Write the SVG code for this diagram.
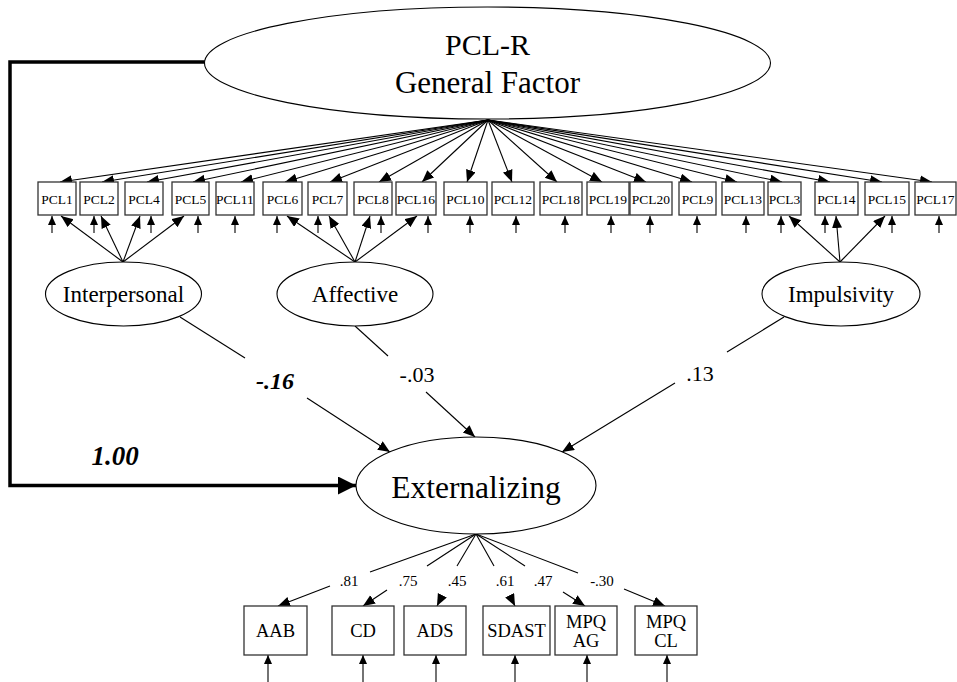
<svg xmlns="http://www.w3.org/2000/svg" width="957" height="682" viewBox="0 0 957 682">
<style>
text{font-family:"Liberation Serif","Times New Roman",serif;fill:#000;text-anchor:middle}
.box{fill:#fff;stroke:#333;stroke-width:1.3}
.ell{fill:#fff;stroke:#000;stroke-width:1.1}
.ln{stroke:#000;stroke-width:1.1;fill:none}
.arr{stroke:#000;stroke-width:1.1;fill:none;marker-end:url(#ah)}
.err{stroke:#000;stroke-width:1.1;fill:none;marker-end:url(#ah2)}
.pcl{font-size:13.5px}
.obs{font-size:18.5px}
.ld{font-size:15px}
.pl{font-size:22px}
.lat{font-size:23px}
</style>
<defs>
<marker id="ah" markerUnits="userSpaceOnUse" markerWidth="13" markerHeight="11" refX="12" refY="5" orient="auto"><path d="M0,0 L12,5 L0,10 z" fill="#000"/></marker>
<marker id="ah2" markerUnits="userSpaceOnUse" markerWidth="10" markerHeight="9" refX="9" refY="4" orient="auto"><path d="M0,0 L9,4 L0,8 z" fill="#000"/></marker>
<marker id="ahb" markerUnits="userSpaceOnUse" markerWidth="20" markerHeight="20" refX="18" refY="9" orient="auto"><path d="M0,0 L18,9 L0,18 z" fill="#000"/></marker>
</defs>

<g id="connectors">
<path d="M205,62 H10 V485.5 H356" stroke="#000" stroke-width="3.5" fill="none" marker-end="url(#ahb)"/>
<line class="arr" x1="488" y1="120" x2="60" y2="182"/>
<line class="arr" x1="488" y1="120" x2="102" y2="182"/>
<line class="arr" x1="488" y1="120" x2="147" y2="182"/>
<line class="arr" x1="488" y1="120" x2="193" y2="182"/>
<line class="arr" x1="488" y1="120" x2="241" y2="182"/>
<line class="arr" x1="488" y1="120" x2="285" y2="182"/>
<line class="arr" x1="488" y1="120" x2="330" y2="182"/>
<line class="arr" x1="488" y1="120" x2="379" y2="182"/>
<line class="arr" x1="488" y1="120" x2="422" y2="182"/>
<line class="arr" x1="488" y1="120" x2="467" y2="182"/>
<line class="arr" x1="488" y1="120" x2="512" y2="182"/>
<line class="arr" x1="488" y1="120" x2="557" y2="182"/>
<line class="arr" x1="488" y1="120" x2="602" y2="182"/>
<line class="arr" x1="488" y1="120" x2="646" y2="182"/>
<line class="arr" x1="488" y1="120" x2="692" y2="182"/>
<line class="arr" x1="488" y1="120" x2="737" y2="182"/>
<line class="arr" x1="488" y1="120" x2="782" y2="182"/>
<line class="arr" x1="488" y1="120" x2="830" y2="182"/>
<line class="arr" x1="488" y1="120" x2="882" y2="182"/>
<line class="arr" x1="488" y1="120" x2="932" y2="182"/>
<line class="err" x1="52" y1="233" x2="52" y2="216"/>
<line class="err" x1="94" y1="233" x2="94" y2="216"/>
<line class="err" x1="151" y1="233" x2="151" y2="216"/>
<line class="err" x1="198" y1="233" x2="198" y2="216"/>
<line class="err" x1="235" y1="233" x2="235" y2="216"/>
<line class="err" x1="277" y1="233" x2="277" y2="216"/>
<line class="err" x1="318" y1="233" x2="318" y2="216"/>
<line class="err" x1="381" y1="233" x2="381" y2="216"/>
<line class="err" x1="428" y1="233" x2="428" y2="216"/>
<line class="err" x1="470" y1="233" x2="470" y2="216"/>
<line class="err" x1="516" y1="233" x2="516" y2="216"/>
<line class="err" x1="565" y1="233" x2="565" y2="216"/>
<line class="err" x1="611" y1="233" x2="611" y2="216"/>
<line class="err" x1="650" y1="233" x2="650" y2="216"/>
<line class="err" x1="697" y1="233" x2="697" y2="216"/>
<line class="err" x1="746" y1="233" x2="746" y2="216"/>
<line class="err" x1="781" y1="233" x2="781" y2="216"/>
<line class="err" x1="825" y1="233" x2="825" y2="216"/>
<line class="err" x1="892" y1="233" x2="892" y2="216"/>
<line class="err" x1="939" y1="233" x2="939" y2="216"/>
<line class="arr" x1="123" y1="262" x2="61" y2="216"/>
<line class="arr" x1="123" y1="262" x2="101" y2="216"/>
<line class="arr" x1="123" y1="262" x2="140" y2="216"/>
<line class="arr" x1="123" y1="262" x2="184" y2="216"/>
<line class="arr" x1="355" y1="262" x2="287" y2="216"/>
<line class="arr" x1="355" y1="262" x2="329" y2="216"/>
<line class="arr" x1="355" y1="262" x2="370" y2="216"/>
<line class="arr" x1="355" y1="262" x2="417" y2="216"/>
<line class="arr" x1="840" y1="262" x2="789" y2="216"/>
<line class="arr" x1="840" y1="262" x2="836" y2="216"/>
<line class="arr" x1="840" y1="262" x2="885" y2="216"/>
<line class="ln" x1="180" y1="317" x2="245" y2="358"/>
<line class="arr" x1="307" y1="398" x2="390" y2="452"/>
<line class="ln" x1="355" y1="326" x2="388" y2="356"/>
<line class="arr" x1="426" y1="392" x2="475" y2="437"/>
<line class="ln" x1="784" y1="317" x2="727" y2="352"/>
<line class="arr" x1="675" y1="383" x2="562" y2="452"/>
<line class="ln" x1="476" y1="534" x2="370" y2="572"/>
<line class="arr" x1="330" y1="586" x2="278" y2="606"/>
<line class="ln" x1="476" y1="534" x2="427" y2="566"/>
<line class="arr" x1="387" y1="590" x2="363" y2="606"/>
<line class="ln" x1="476" y1="534" x2="457" y2="566"/>
<line class="arr" x1="442" y1="596" x2="437" y2="606"/>
<line class="ln" x1="476" y1="534" x2="494" y2="566"/>
<line class="arr" x1="510" y1="596" x2="515" y2="606"/>
<line class="ln" x1="476" y1="534" x2="525" y2="566"/>
<line class="arr" x1="563" y1="592" x2="585" y2="606"/>
<line class="ln" x1="476" y1="534" x2="578" y2="573"/>
<line class="arr" x1="624" y1="589" x2="665" y2="606"/>
<line class="err" x1="268" y1="682" x2="268" y2="655"/>
<line class="err" x1="363" y1="682" x2="363" y2="655"/>
<line class="err" x1="436" y1="682" x2="436" y2="655"/>
<line class="err" x1="515" y1="682" x2="515" y2="655"/>
<line class="err" x1="587" y1="682" x2="587" y2="655"/>
<line class="err" x1="667" y1="682" x2="667" y2="655"/>
</g>

<g id="labels">
<text x="275" y="389" font-size="24" font-weight="bold" font-style="italic">-.16</text>
<text x="417" y="382" class="pl">-.03</text>
<text x="700" y="381" class="pl">.13</text>
<text x="115" y="465" font-size="27" font-weight="bold" font-style="italic">1.00</text>
<text x="349" y="586" class="ld">.81</text>
<text x="408" y="586" class="ld">.75</text>
<text x="457" y="586" class="ld">.45</text>
<text x="505" y="586" class="ld">.61</text>
<text x="543" y="586" class="ld">.47</text>
<text x="602" y="586" class="ld">-.30</text>
</g>

<g id="pclr"><ellipse class="ell" cx="487.5" cy="63" rx="283" ry="56"/><text x="487.5" y="55" font-size="30">PCL-R</text><text x="487.5" y="93" font-size="31">General Factor</text></g>
<g id="interpersonal"><ellipse class="ell" cx="123.5" cy="294" rx="78" ry="32"/><text x="123.5" y="302" class="lat">Interpersonal</text></g>
<g id="affective"><ellipse class="ell" cx="355" cy="294" rx="78" ry="32"/><text x="355" y="302" class="lat">Affective</text></g>
<g id="impulsivity"><ellipse class="ell" cx="841" cy="294" rx="79" ry="32"/><text x="841" y="302" class="lat">Impulsivity</text></g>
<g id="externalizing"><ellipse class="ell" cx="476" cy="485.5" rx="120" ry="48.5"/><text x="476" y="498" font-size="31.5">Externalizing</text></g>

<g id="pcl1"><rect class="box" x="38" y="182" width="38" height="33"/><text class="pcl" x="57" y="204">PCL1</text></g>
<g id="pcl2"><rect class="box" x="80" y="182" width="38" height="33"/><text class="pcl" x="99" y="204">PCL2</text></g>
<g id="pcl4"><rect class="box" x="125" y="182" width="38" height="33"/><text class="pcl" x="144" y="204">PCL4</text></g>
<g id="pcl5"><rect class="box" x="172" y="182" width="37" height="33"/><text class="pcl" x="190.5" y="204">PCL5</text></g>
<g id="pcl11"><rect class="box" x="216" y="182" width="38" height="33"/><text class="pcl" x="235" y="204">PCL11</text></g>
<g id="pcl6"><rect class="box" x="263" y="182" width="39" height="33"/><text class="pcl" x="282.5" y="204">PCL6</text></g>
<g id="pcl7"><rect class="box" x="308" y="182" width="39" height="33"/><text class="pcl" x="327.5" y="204">PCL7</text></g>
<g id="pcl8"><rect class="box" x="354" y="182" width="38" height="33"/><text class="pcl" x="373" y="204">PCL8</text></g>
<g id="pcl16"><rect class="box" x="396" y="182" width="40" height="33"/><text class="pcl" x="416" y="204">PCL16</text></g>
<g id="pcl10"><rect class="box" x="444" y="182" width="43" height="33"/><text class="pcl" x="465.5" y="204">PCL10</text></g>
<g id="pcl12"><rect class="box" x="492" y="182" width="42" height="33"/><text class="pcl" x="513" y="204">PCL12</text></g>
<g id="pcl18"><rect class="box" x="540" y="182" width="42" height="33"/><text class="pcl" x="561" y="204">PCL18</text></g>
<g id="pcl19"><rect class="box" x="587" y="182" width="42" height="33"/><text class="pcl" x="608" y="204">PCL19</text></g>
<g id="pcl20"><rect class="box" x="630" y="182" width="42" height="33"/><text class="pcl" x="651" y="204">PCL20</text></g>
<g id="pcl9"><rect class="box" x="679" y="182" width="37" height="33"/><text class="pcl" x="697.5" y="204">PCL9</text></g>
<g id="pcl13"><rect class="box" x="722" y="182" width="42" height="33"/><text class="pcl" x="743" y="204">PCL13</text></g>
<g id="pcl3"><rect class="box" x="768" y="182" width="33" height="33"/><text class="pcl" x="784.5" y="204">PCL3</text></g>
<g id="pcl14"><rect class="box" x="815" y="182" width="43" height="33"/><text class="pcl" x="836.5" y="204">PCL14</text></g>
<g id="pcl15"><rect class="box" x="865" y="182" width="44" height="33"/><text class="pcl" x="887" y="204">PCL15</text></g>
<g id="pcl17"><rect class="box" x="915" y="182" width="41" height="33"/><text class="pcl" x="935.5" y="204">PCL17</text></g>

<g id="aab"><rect class="box" x="244" y="606" width="63" height="49"/><text class="obs" x="275.5" y="637">AAB</text></g>
<g id="cd"><rect class="box" x="332" y="606" width="62" height="49"/><text class="obs" x="363" y="637">CD</text></g>
<g id="ads"><rect class="box" x="404" y="606" width="62" height="49"/><text class="obs" x="435" y="637">ADS</text></g>
<g id="sdast"><rect class="box" x="483" y="606" width="67" height="49"/><text class="obs" x="516.5" y="637">SDAST</text></g>
<g id="mpqag"><rect class="box" x="555" y="606" width="62" height="49"/><text class="obs" x="586" y="628">MPQ</text><text class="obs" x="586" y="647">AG</text></g>
<g id="mpqcl"><rect class="box" x="635" y="606" width="62" height="49"/><text class="obs" x="666" y="628">MPQ</text><text class="obs" x="666" y="647">CL</text></g>
</svg>
